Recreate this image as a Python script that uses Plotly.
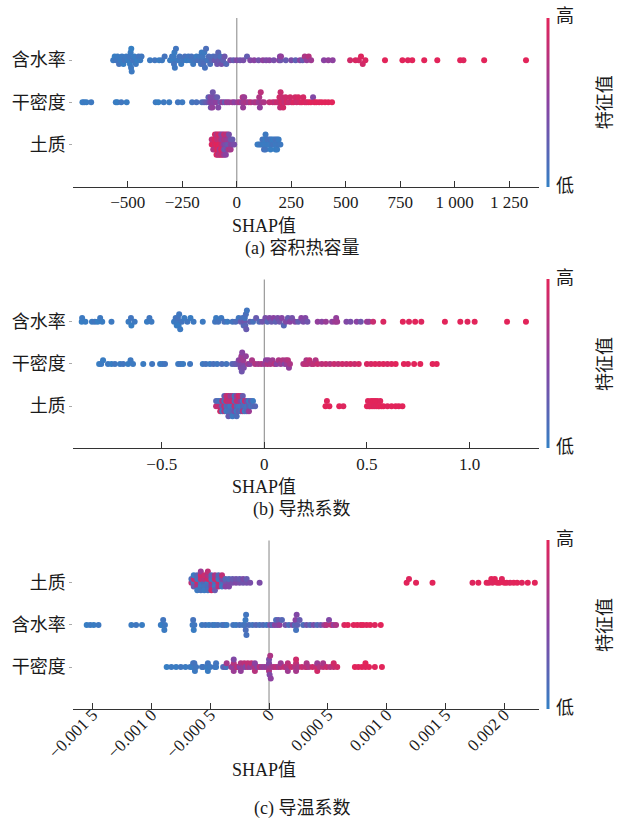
import numpy as np
import plotly.graph_objects as go

# ---------------- data: (SHAP value, normalised feature value) per sample ----------------
# (a) 容积热容量
a_water = [
    (-567, 0.05), (-560, 0.02), (-553, 0.08), (-547, 0.04), (-540, 0.10), (-533, 0.03), (-527, 0.06),
    (-520, 0.02), (-514, 0.09), (-507, 0.05), (-500, 0.03), (-494, 0.07), (-490, 0.02), (-487, 0.04),
    (-485, 0.06), (-484, 0.01), (-482, 0.05), (-476, 0.08), (-470, 0.03), (-463, 0.06), (-456, 0.02),
    (-450, 0.09), (-443, 0.04), (-437, 0.07),
    (-398, 0.05), (-376, 0.08), (-356, 0.03), (-343, 0.06), (-331, 0.10),
    (-306, 0.04), (-297, 0.07), (-291, 0.02), (-289, 0.05), (-288, 0.09), (-286, 0.03), (-284, 0.06), (-279, 0.08),
    (-270, 0.05), (-262, 0.10), (-255, 0.04), (-246, 0.07), (-238, 0.12), (-230, 0.03), (-222, 0.08),
    (-215, 0.05), (-208, 0.11), (-200, 0.06), (-192, 0.09), (-185, 0.04), (-178, 0.12), (-170, 0.07),
    (-164, 0.10), (-161, 0.05), (-158, 0.13), (-156, 0.08), (-153, 0.15), (-149, 0.06), (-146, 0.11),
    (-141, 0.14), (-135, 0.09), (-128, 0.16),
    (-122, 0.12), (-115, 0.20), (-108, 0.15), (-101, 0.32), (-95, 0.18), (-90, 0.35), (-85, 0.22),
    (-80, 0.30), (-75, 0.14), (-70, 0.38), (-63, 0.25), (-56, 0.33), (-48, 0.19),
    (-30, 0.42), (-15, 0.30), (0, 0.45), (15, 0.36), (30, 0.40), (47, 0.28),
    (62, 0.45), (80, 0.50), (100, 0.38), (120, 0.52), (135, 0.44), (150, 0.48), (170, 0.40),
    (194, 0.50), (198, 0.45), (201, 0.35), (203, 0.55), (225, 0.30), (250, 0.42), (270, 0.25), (290, 0.50),
    (302, 0.30), (312, 0.70), (321, 0.55), (330, 0.75), (341, 0.62), (400, 0.50), (420, 0.55), (440, 0.52),
    (520, 0.90), (545, 0.95), (560, 0.92), (570, 0.98), (578, 0.90), (590, 0.95), (680, 1.00),
    (760, 1.00), (785, 0.98), (805, 1.00), (860, 1.00), (920, 1.00), (1025, 1.00), (1040, 0.98),
    (1135, 1.00), (1327, 1.00),
]
a_dry = [
    (-708, 0.02), (-700, 0.05), (-690, 0.03), (-668, 0.06),
    (-555, 0.04), (-548, 0.02), (-530, 0.07), (-505, 0.03),
    (-372, 0.05), (-360, 0.02), (-335, 0.06), (-310, 0.04),
    (-270, 0.08), (-250, 0.05),
    (-205, 0.10), (-185, 0.12), (-160, 0.15),
    (-150, 0.20), (-140, 0.28), (-130, 0.25),
    (-125, 0.40), (-121, 0.45), (-119, 0.38), (-117, 0.50), (-115, 0.42), (-112, 0.55), (-110, 0.35),
    (-106, 0.48), (-100, 0.40), (-95, 0.52), (-90, 0.30), (-85, 0.45),
    (-75, 0.35), (-65, 0.58), (-55, 0.30), (-45, 0.60),
    (-35, 0.55), (-20, 0.62), (-10, 0.50),
    (5, 0.60), (15, 0.68), (24, 0.55), (27, 0.72), (29, 0.58), (31, 0.65), (34, 0.60), (44, 0.70),
    (55, 0.62), (65, 0.75),
    (80, 0.65), (90, 0.72), (100, 0.60), (103, 0.70), (106, 0.55), (110, 0.78), (115, 0.66), (125, 0.70),
    (150, 0.80), (165, 0.85), (175, 0.78), (185, 0.88), (192, 0.82), (196, 0.90), (199, 0.80), (201, 0.86),
    (204, 0.92), (208, 0.84), (213, 0.90), (218, 0.82), (224, 0.88), (230, 0.94), (238, 0.85), (245, 0.90),
    (252, 0.86), (260, 0.95), (268, 0.90), (275, 0.88), (282, 0.94), (290, 0.90), (298, 0.96), (305, 0.92),
    (312, 0.98), (320, 0.94), (330, 0.96), (340, 1.00), (350, 0.45), (356, 0.97), (365, 1.00), (378, 0.98),
    (390, 1.00), (405, 1.00), (420, 0.99), (437, 1.00),
]
a_soil = [
    (-115, 0.95), (-115, 0.80),
    (-108, 1.00), (-108, 0.85), (-108, 0.70),
    (-100, 0.90), (-100, 1.00), (-100, 0.75), (-100, 0.95),
    (-93, 1.00), (-93, 0.85), (-93, 0.90), (-93, 0.70), (-93, 1.00),
    (-86, 0.95), (-86, 0.80), (-86, 1.00), (-86, 0.90), (-86, 0.75),
    (-79, 1.00), (-79, 0.85), (-79, 0.65), (-79, 0.95), (-79, 0.80),
    (-72, 0.90), (-72, 0.70), (-72, 1.00), (-72, 0.60), (-72, 0.85),
    (-65, 0.75), (-65, 0.55), (-65, 0.90), (-65, 0.45), (-65, 0.80),
    (-58, 0.50), (-58, 0.70), (-58, 0.35), (-58, 0.85), (-58, 0.60),
    (-50, 0.40), (-50, 0.65), (-50, 0.30), (-50, 0.75), (-50, 0.50),
    (-43, 0.35), (-43, 0.60), (-43, 0.45), (-43, 0.80),
    (-36, 0.30), (-36, 0.55), (-36, 0.70), (-36, 0.40),
    (-28, 0.50), (-28, 0.35), (-28, 0.65),
    (-20, 0.45), (-20, 0.30),
    (-12, 0.40),
    (95, 0.05), (103, 0.02), (110, 0.08), (118, 0.04), (118, 0.10), (125, 0.03), (125, 0.07), (125, 0.12),
    (132, 0.05), (132, 0.02), (132, 0.09), (132, 0.06), (140, 0.04), (140, 0.10), (148, 0.03), (148, 0.08),
    (155, 0.05), (155, 0.11), (155, 0.02), (162, 0.07), (162, 0.04), (170, 0.09), (170, 0.03), (178, 0.06),
    (178, 0.10), (178, 0.02), (185, 0.05), (185, 0.08), (185, 0.03), (192, 0.07), (192, 0.04), (200, 0.06),
]

# (b) 导热系数
b_water = [
    (-0.890, 0.02), (-0.888, 0.05), (-0.872, 0.03),
    (-0.840, 0.04), (-0.826, 0.07), (-0.812, 0.02), (-0.800, 0.06), (-0.790, 0.03),
    (-0.745, 0.05),
    (-0.662, 0.04), (-0.650, 0.08), (-0.648, 0.02), (-0.632, 0.06),
    (-0.572, 0.03), (-0.560, 0.07), (-0.550, 0.05),
    (-0.440, 0.04), (-0.432, 0.08), (-0.427, 0.03), (-0.424, 0.06), (-0.421, 0.10), (-0.418, 0.02),
    (-0.415, 0.07), (-0.410, 0.05), (-0.402, 0.09),
    (-0.390, 0.04), (-0.375, 0.08), (-0.360, 0.03), (-0.345, 0.06),
    (-0.300, 0.05),
    (-0.240, 0.08), (-0.235, 0.04), (-0.225, 0.10),
    (-0.210, 0.06), (-0.195, 0.12), (-0.180, 0.05),
    (-0.155, 0.10), (-0.140, 0.15), (-0.125, 0.08), (-0.115, 0.30), (-0.106, 0.12), (-0.101, 0.18),
    (-0.098, 0.35), (-0.095, 0.10), (-0.093, 0.22), (-0.090, 0.14), (-0.088, 0.30), (-0.085, 0.08),
    (-0.070, 0.25), (-0.055, 0.12), (-0.040, 0.30), (-0.025, 0.18), (-0.010, 0.35),
    (0.005, 0.40), (0.015, 0.20), (0.025, 0.45), (0.035, 0.30), (0.045, 0.50), (0.055, 0.25),
    (0.065, 0.42), (0.075, 0.35), (0.085, 0.48), (0.095, 0.20), (0.105, 0.44), (0.115, 0.30),
    (0.125, 0.50), (0.135, 0.38), (0.150, 0.46), (0.165, 0.28), (0.180, 0.50), (0.190, 0.40),
    (0.200, 0.45), (0.210, 0.35),
    (0.260, 0.55), (0.280, 0.50), (0.300, 0.58), (0.330, 0.52), (0.345, 0.60), (0.350, 0.55), (0.355, 0.62),
    (0.400, 0.45), (0.420, 0.40), (0.450, 0.50), (0.470, 0.35), (0.500, 0.60), (0.510, 0.55),
    (0.530, 0.85), (0.580, 0.95), (0.675, 1.00), (0.705, 0.98), (0.735, 1.00), (0.765, 0.97),
    (0.880, 1.00), (0.955, 1.00), (0.990, 0.98), (1.025, 1.00), (1.183, 1.00), (1.275, 1.00),
]
b_dry = [
    (-0.805, 0.02), (-0.795, 0.05), (-0.786, 0.03), (-0.762, 0.06), (-0.745, 0.02), (-0.728, 0.07),
    (-0.703, 0.04), (-0.688, 0.08), (-0.664, 0.03), (-0.652, 0.06), (-0.640, 0.05), (-0.590, 0.04),
    (-0.547, 0.07), (-0.508, 0.03), (-0.496, 0.06), (-0.484, 0.09), (-0.420, 0.05), (-0.408, 0.08),
    (-0.396, 0.04), (-0.362, 0.07), (-0.300, 0.06), (-0.285, 0.10), (-0.265, 0.05), (-0.248, 0.12),
    (-0.230, 0.08), (-0.207, 0.14), (-0.185, 0.10),
    (-0.157, 0.20), (-0.145, 0.25), (-0.135, 0.30),
    (-0.125, 0.45), (-0.121, 0.38), (-0.118, 0.55), (-0.115, 0.42), (-0.112, 0.60), (-0.110, 0.35),
    (-0.108, 0.50), (-0.105, 0.45), (-0.103, 0.62), (-0.100, 0.40),
    (-0.090, 0.55), (-0.080, 0.62), (-0.070, 0.50),
    (-0.060, 0.68), (-0.045, 0.72), (-0.030, 0.65), (-0.015, 0.70),
    (0.000, 0.60), (0.008, 0.50), (0.015, 0.72), (0.020, 0.55), (0.030, 0.68), (0.040, 0.62),
    (0.050, 0.75), (0.060, 0.50), (0.070, 0.70), (0.080, 0.58), (0.090, 0.72), (0.100, 0.45),
    (0.105, 0.68), (0.110, 0.60), (0.115, 0.74), (0.120, 0.55), (0.125, 0.70),
    (0.190, 0.72), (0.200, 0.80), (0.205, 0.70), (0.210, 0.78), (0.220, 0.82), (0.230, 0.75),
    (0.240, 0.80), (0.250, 0.72), (0.260, 0.85),
    (0.280, 0.78), (0.300, 0.82), (0.320, 0.75), (0.340, 0.85), (0.360, 0.80), (0.380, 0.88),
    (0.400, 0.85), (0.420, 0.90), (0.440, 0.86), (0.460, 0.92),
    (0.500, 0.95), (0.520, 0.93), (0.540, 0.97), (0.560, 0.95), (0.580, 0.98), (0.600, 0.94),
    (0.620, 0.97), (0.640, 1.00),
    (0.680, 1.00), (0.700, 0.98), (0.730, 1.00), (0.760, 1.00), (0.820, 1.00), (0.840, 1.00),
]
b_soil = [
    (-0.235, 0.80), (-0.235, 0.20),
    (-0.225, 0.85), (-0.225, 0.15),
    (-0.215, 0.75), (-0.215, 0.10), (-0.215, 0.90),
    (-0.205, 0.20), (-0.205, 0.80), (-0.205, 0.05),
    (-0.195, 0.85), (-0.195, 0.10), (-0.195, 0.70), (-0.195, 0.25),
    (-0.185, 0.15), (-0.185, 0.90), (-0.185, 0.05), (-0.185, 0.80),
    (-0.175, 0.20), (-0.175, 0.75), (-0.175, 0.10), (-0.175, 0.85), (-0.175, 0.30),
    (-0.165, 0.05), (-0.165, 0.80), (-0.165, 0.15), (-0.165, 0.60),
    (-0.155, 0.10), (-0.155, 0.90), (-0.155, 0.20), (-0.155, 0.70), (-0.155, 0.05),
    (-0.145, 0.85), (-0.145, 0.15), (-0.145, 0.40), (-0.145, 0.10),
    (-0.135, 0.20), (-0.135, 0.80), (-0.135, 0.05), (-0.135, 0.60), (-0.135, 0.15),
    (-0.125, 0.10), (-0.125, 0.75), (-0.125, 0.25), (-0.125, 0.90),
    (-0.115, 0.05), (-0.115, 0.50), (-0.115, 0.15), (-0.115, 0.80),
    (-0.105, 0.20), (-0.105, 0.10), (-0.105, 0.70), (-0.105, 0.30),
    (-0.095, 0.15), (-0.095, 0.85), (-0.095, 0.05),
    (-0.085, 0.10), (-0.085, 0.40), (-0.085, 0.20),
    (-0.075, 0.25), (-0.075, 0.05), (-0.075, 0.60),
    (-0.065, 0.10), (-0.065, 0.30),
    (-0.055, 0.15), (-0.055, 0.05),
    (-0.045, 0.20),
    (0.298, 1.00), (0.305, 0.98), (0.317, 1.00), (0.365, 1.00), (0.385, 0.97),
    (0.500, 1.00), (0.505, 0.98), (0.510, 1.00), (0.515, 0.97), (0.520, 1.00), (0.525, 0.99),
    (0.530, 1.00), (0.535, 0.98), (0.540, 1.00), (0.545, 0.97), (0.550, 1.00), (0.555, 0.99),
    (0.560, 1.00), (0.565, 0.98), (0.570, 1.00), (0.580, 1.00), (0.600, 0.98), (0.620, 1.00),
    (0.640, 1.00), (0.655, 0.99), (0.673, 1.00),
]

# (c) 导温系数
c_soil = [
    (-0.00066, 0.80), (-0.00066, 0.15),
    (-0.00064, 0.10), (-0.00064, 0.85), (-0.00064, 0.30), (-0.00064, 0.05),
    (-0.00061, 0.90), (-0.00061, 0.10), (-0.00061, 0.70), (-0.00061, 0.20), (-0.00061, 0.05),
    (-0.00058, 0.15), (-0.00058, 0.80), (-0.00058, 0.05), (-0.00058, 0.90), (-0.00058, 0.10), (-0.00058, 0.60),
    (-0.00055, 0.20), (-0.00055, 0.75), (-0.00055, 0.10), (-0.00055, 0.85), (-0.00055, 0.05),
    (-0.00052, 0.05), (-0.00052, 0.90), (-0.00052, 0.15), (-0.00052, 0.70), (-0.00052, 0.10), (-0.00052, 0.80),
    (-0.00049, 0.80), (-0.00049, 0.10), (-0.00049, 0.60), (-0.00049, 0.20), (-0.00049, 0.90),
    (-0.00046, 0.15), (-0.00046, 0.85), (-0.00046, 0.05), (-0.00046, 0.70), (-0.00046, 0.30),
    (-0.00043, 0.90), (-0.00043, 0.10), (-0.00043, 0.75), (-0.00043, 0.20),
    (-0.00040, 0.15), (-0.00040, 0.45), (-0.00040, 0.05), (-0.00040, 0.80),
    (-0.00037, 0.35), (-0.00037, 0.20), (-0.00037, 0.50),
    (-0.00034, 0.40), (-0.00034, 0.15), (-0.00034, 0.45),
    (-0.00031, 0.40), (-0.00031, 0.30),
    (-0.00028, 0.45), (-0.00028, 0.35),
    (-0.00025, 0.40), (-0.00025, 0.30),
    (-0.00022, 0.35), (-0.00022, 0.42),
    (-0.00019, 0.38), (-0.00019, 0.30),
    (-0.00016, 0.40),
    (-0.00008, 0.42),
    (0.00117, 1.00), (0.00119, 0.98), (0.00125, 1.00), (0.00139, 1.00), (0.00173, 0.97), (0.00178, 1.00),
    (0.00185, 1.00), (0.00187, 0.98), (0.00189, 1.00), (0.00190, 0.97), (0.00192, 1.00), (0.00194, 0.99),
    (0.00196, 1.00), (0.00198, 0.98), (0.00200, 1.00), (0.00202, 1.00), (0.00205, 0.97), (0.00208, 1.00),
    (0.00211, 1.00), (0.00215, 0.98), (0.00220, 1.00), (0.00226, 1.00),
]
c_water = [
    (-0.00155, 0.02), (-0.00152, 0.05), (-0.00149, 0.03), (-0.00145, 0.06),
    (-0.00117, 0.04), (-0.00113, 0.07), (-0.00108, 0.03),
    (-0.00092, 0.05), (-0.00091, 0.02), (-0.00090, 0.08), (-0.00089, 0.04), (-0.000885, 0.06),
    (-0.00065, 0.05), (-0.000645, 0.10), (-0.00064, 0.03), (-0.000635, 0.07),
    (-0.00057, 0.06), (-0.00054, 0.09), (-0.00051, 0.04), (-0.00048, 0.08), (-0.00046, 0.05), (-0.000435, 0.10),
    (-0.00040, 0.07), (-0.00038, 0.12), (-0.00036, 0.05),
    (-0.000305, 0.09), (-0.00028, 0.06), (-0.00025, 0.12), (-0.00022, 0.08),
    (-0.000205, 0.10), (-0.00020, 0.05), (-0.000198, 0.14), (-0.000195, 0.08), (-0.000192, 0.11),
    (-0.00017, 0.15), (-0.00014, 0.10), (-0.00011, 0.20), (-0.00008, 0.12), (-0.00005, 0.18), (-0.00002, 0.10),
    (0.00001, 0.40), (0.00003, 0.20), (0.00005, 0.50), (0.00006, 0.15), (0.00007, 0.45), (0.00008, 0.30),
    (0.00009, 0.55), (0.00011, 0.20),
    (0.00014, 0.35), (0.00017, 0.15), (0.00020, 0.40), (0.00022, 0.20), (0.000225, 0.50), (0.00023, 0.10),
    (0.000235, 0.45), (0.00024, 0.25),
    (0.00026, 0.30), (0.00029, 0.15), (0.00032, 0.35), (0.00035, 0.20), (0.00038, 0.40), (0.00041, 0.18),
    (0.00044, 0.30),
    (0.00047, 0.60), (0.00049, 0.75), (0.00051, 0.45), (0.00053, 0.80), (0.00055, 0.55), (0.00057, 0.70),
    (0.00064, 0.95), (0.00067, 1.00), (0.00072, 0.98), (0.00075, 1.00), (0.00078, 0.97), (0.00080, 1.00),
    (0.00083, 0.98), (0.00086, 1.00), (0.00090, 0.97), (0.00095, 1.00),
]
c_dry = [
    (-0.00087, 0.02), (-0.00083, 0.05), (-0.00079, 0.03), (-0.00075, 0.07), (-0.00071, 0.04),
    (-0.00067, 0.06), (-0.00065, 0.02), (-0.000645, 0.08), (-0.00064, 0.04), (-0.000635, 0.10),
    (-0.00063, 0.05), (-0.00062, 0.07),
    (-0.00057, 0.05), (-0.00056, 0.09), (-0.00053, 0.04), (-0.00052, 0.08), (-0.00052, 0.03),
    (-0.00050, 0.06), (-0.00046, 0.10), (-0.00045, 0.05), (-0.00045, 0.08),
    (-0.00039, 0.15), (-0.00037, 0.50), (-0.000365, 0.10), (-0.00036, 0.65),
    (-0.00032, 0.70), (-0.00031, 0.55), (-0.00030, 0.75), (-0.00030, 0.60), (-0.00030, 0.45),
    (-0.00028, 0.60), (-0.00027, 0.80), (-0.00025, 0.50), (-0.00024, 0.72), (-0.00024, 0.55),
    (-0.00022, 0.58), (-0.00021, 0.78), (-0.00020, 0.45), (-0.00018, 0.68), (-0.00018, 0.80),
    (-0.00016, 0.55), (-0.00015, 0.80), (-0.00013, 0.62), (-0.00012, 0.70), (-0.00012, 0.50),
    (-0.00012, 0.75), (-0.00010, 0.50), (-0.00008, 0.75), (-0.00006, 0.60),
    (-0.00004, 0.55), (-0.00002, 0.65), (-0.00001, 0.50), (0.0, 0.60), (0.0, 0.45), (0.0, 0.70),
    (0.0, 0.40), (0.000005, 0.45), (0.00001, 0.70), (0.000015, 0.52), (0.00002, 0.62),
    (0.00004, 0.70), (0.00006, 0.80), (0.00008, 0.65), (0.00010, 0.75), (0.00010, 0.60),
    (0.00013, 0.82), (0.00015, 0.70), (0.00016, 0.78), (0.00016, 0.62), (0.00019, 0.85),
    (0.00022, 0.72), (0.00023, 0.80), (0.00023, 0.66), (0.00023, 0.88), (0.00025, 0.68),
    (0.00028, 0.85), (0.00031, 0.75), (0.00032, 0.82), (0.00032, 0.70), (0.00034, 0.70),
    (0.00037, 0.88), (0.00040, 0.78), (0.00041, 0.85), (0.00041, 0.60), (0.00041, 0.90),
    (0.00043, 0.72), (0.00046, 0.80), (0.00046, 0.68), (0.00049, 0.86), (0.00052, 0.75),
    (0.00055, 0.82), (0.00055, 0.90), (0.00058, 0.90),
    (0.00073, 1.00), (0.00076, 0.98), (0.00079, 1.00), (0.00082, 0.97), (0.00082, 1.00),
    (0.00085, 1.00), (0.00090, 0.98), (0.00096, 1.00),
]

# tick labels
a_ticks = [-750, -500, -250, 0, 250, 500, 750, 1000, 1250]
a_ticktext = ["\u2212750", "\u2212500", "\u2212250", "0", "250", "500", "750", "1 000", "1 250"]
b_ticks = [-0.5, 0.0, 0.5, 1.0]
b_ticktext = ["\u22120.5", "0", "0.5", "1.0"]
c_ticks = [-0.0015, -0.0010, -0.0005, 0.0, 0.0005, 0.0010, 0.0015, 0.0020]
c_ticktext = ["\u22120.001 5", "\u22120.001 0", "\u22120.000 5", "0",
              "0.000 5", "0.001 0", "0.001 5", "0.002 0"]

# ---------------- layout constants (pixels) ----------------
W, H = 623, 827
X0, X1 = 73.3, 539.3
FONT = "'Liberation Serif', 'Times New Roman', 'Noto Sans CJK SC', serif"
TXT = "#1a1a1a"
CSCALE = [[0.0, "#3480c4"], [0.5, "#8a42a2"], [1.0, "#e2245a"]]

panels = [
    dict(top=18.0, bottom=186.7, xr=[-750, 1388], ticks=a_ticks, ticktext=a_ticktext, angle=0, stand=0,
         rows=[("土质", a_soil), ("干密度", a_dry), ("含水率", a_water)],
         label_y=226, caption="(a) 容积热容量", cap_y=248),
    dict(top=279.6, bottom=448.3, xr=[-0.931, 1.340], ticks=b_ticks, ticktext=b_ticktext, angle=0, stand=0,
         rows=[("土质", b_soil), ("干密度", b_dry), ("含水率", b_water)],
         label_y=487, caption="(b) 导热系数", cap_y=510),
    dict(top=540.6, bottom=709.3, xr=[-0.001664, 0.002298], ticks=c_ticks, ticktext=c_ticktext, angle=-45,
         stand=-12,
         rows=[("干密度", c_dry), ("含水率", c_water), ("土质", c_soil)],
         label_y=770, caption="(c) 导温系数", cap_y=808),
]


def swarm_offsets(values, row_height=0.4, nbins=100):
    """Vertical beeswarm offsets: points sharing a value bin are stacked alternately up/down."""
    v = np.asarray(values, dtype=float)
    quant = np.round(nbins * (v - v.min()) / (v.max() - v.min() + 1e-12))
    order = np.argsort(quant, kind="stable")
    ys = np.zeros(len(v))
    layer, last = 0, None
    for i in order:
        if quant[i] != last:
            layer = 0
        ys[i] = np.ceil(layer / 2) * ((layer % 2) * 2 - 1)
        layer += 1
        last = quant[i]
    ys *= 0.9 * (row_height / np.max(ys + 1))
    return ys


def px(x):
    return x / W


def py(y):
    return 1 - y / H


fig = go.Figure()
layout = dict(
    width=W, height=H, autosize=False,
    margin=dict(l=0, r=0, t=0, b=0, autoexpand=False),
    paper_bgcolor="white", plot_bgcolor="white",
    showlegend=False,
    font=dict(family=FONT, size=18, color=TXT),
    shapes=[], annotations=[],
)

for k, p in enumerate(panels, start=1):
    sfx = "" if k == 1 else str(k)
    xa, ya = "x" + sfx, "y" + sfx
    cax = "coloraxis" + sfx

    for pos, (name, pts) in enumerate(p["rows"]):
        vals = [s for s, _ in pts]
        feats = [f for _, f in pts]
        offs = swarm_offsets(vals)
        fig.add_trace(go.Scatter(
            x=vals, y=pos + offs, mode="markers", xaxis=xa, yaxis=ya,
            marker=dict(size=6, color=feats, coloraxis=cax, line=dict(width=0)),
            hoverinfo="x", name=name,
        ))

    lo, hi = p["xr"]
    layout["xaxis" + sfx] = dict(
        domain=[px(X0), px(X1)], anchor=ya, range=[lo, hi], automargin=False,
        tickmode="array", tickvals=[lo] + p["ticks"] + [hi], ticktext=[""] + p["ticktext"] + [""],
        ticks="inside", ticklen=6, tickwidth=1.2, tickcolor="#333333",
        showline=True, linecolor="#333333", linewidth=1.2,
        showgrid=False, zeroline=False, tickangle=p["angle"], ticklabelstandoff=p["stand"],
        tickfont=dict(family=FONT, size=17, color=TXT),
    )
    layout["yaxis" + sfx] = dict(
        domain=[py(p["bottom"]), py(p["top"])], anchor=xa, range=[-1, 3], automargin=False,
        tickmode="array", tickvals=[0, 1, 2], ticktext=[n for n, _ in p["rows"]],
        ticks="outside", ticklen=3, tickwidth=1, tickcolor="#aaaaaa",
        showline=False, showgrid=False, zeroline=False,
        tickfont=dict(family=FONT, size=18, color=TXT),
    )
    layout[cax] = dict(
        cmin=0, cmax=1, colorscale=CSCALE,
        colorbar=dict(
            x=px(548.3), xanchor="center", xpad=0, ypad=0,
            y=py((p["top"] + p["bottom"]) / 2), yanchor="middle",
            len=(p["bottom"] - p["top"]) / H, lenmode="fraction",
            thickness=2.5, outlinewidth=0, showticklabels=False, ticks="",
        ),
    )
    # vertical reference line at SHAP = 0
    layout["shapes"].append(dict(
        type="line", xref=xa, yref=ya + " domain", x0=0, x1=0, y0=0, y1=1,
        line=dict(color="#999999", width=1.2), layer="below",
    ))
    anns = [
        ("高", 565, p["top"] - 2, 0),
        ("低", 565, p["bottom"] - 1, 0),
        ("特征值", 605, (p["top"] + p["bottom"]) / 2, -90),
        ("SHAP值", 264, p["label_y"], 0),
        (p["caption"], 302, p["cap_y"], 0),
    ]
    for text, x, y, ang in anns:
        layout["annotations"].append(dict(
            text=text, x=px(x), y=py(y), xref="paper", yref="paper",
            xanchor="center", yanchor="middle", showarrow=False, textangle=ang,
            font=dict(family=FONT, size=18, color=TXT),
        ))

fig.update_layout(**layout)
fig.write_html("out.html")
